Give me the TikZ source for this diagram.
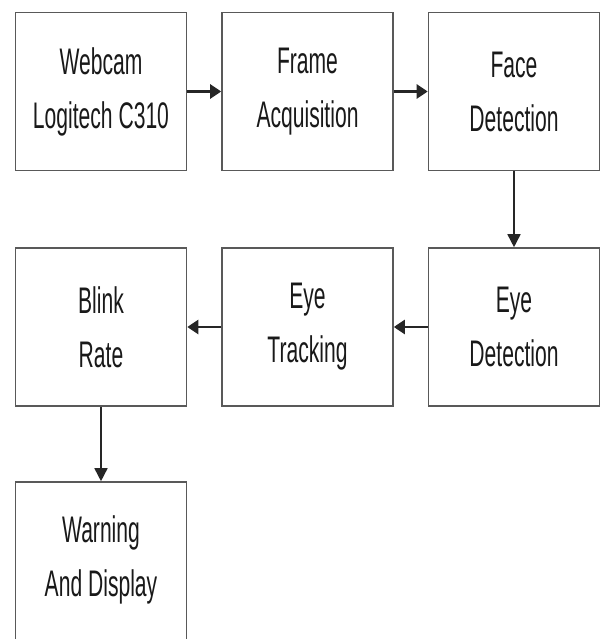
\documentclass[tikz,border=0pt]{standalone}
\usepackage{fontspec}
\newfontfamily\narrowsans[FakeStretch=0.57]{Liberation Sans}
\usetikzlibrary{arrows.meta}
\begin{document}
\begin{tikzpicture}[x=1pt,y=-1pt,
  blockbox/.style={draw=black!65, line width=1.6pt, fill=white, rectangle, inner sep=0pt,
    minimum width=171pt, minimum height=158pt, align=center, text=black!90,
    font=\narrowsans\fontsize{37}{54}\selectfont},
  flow/.style={line width=1.6pt, draw=black!85, -{Triangle[length=13pt,width=13pt]}},
  hflow/.style={flow, line width=2.6pt, -{Triangle[length=11pt,width=14pt]}}]
\path[use as bounding box, clip] (0,0) rectangle (605,639);
\fill[white] (0,0) rectangle (605,639);
\node[blockbox] (webcam) at (101,91.5) {Webcam\\Logitech C310};
\node[blockbox] (frame) at (307.5,91.5) {Frame\\Acquisition};
\node[blockbox] (face) at (514,91.5) {Face\\Detection};
\node[blockbox] (eyedet) at (514,327) {Eye\\Detection};
\node[blockbox] (eyetrack) at (307.5,327) {Eye\\Tracking};
\node[blockbox] (blink) at (101,327) {Blink\\Rate};
\node[blockbox, minimum height=170pt] (warn) at (101,567) {};
\node[align=center, text=black!90, font=\narrowsans\fontsize{37}{54}\selectfont] (warntext) at (101,560) {Warning\\And Display};
\draw[hflow] (webcam) -- (frame);
\draw[hflow] (frame) -- (face);
\draw[flow] (face) -- (eyedet);
\draw[hflow] (eyedet) -- (eyetrack);
\draw[hflow] (eyetrack) -- (blink);
\draw[flow] (blink) -- (warn);
\end{tikzpicture}
\end{document}
